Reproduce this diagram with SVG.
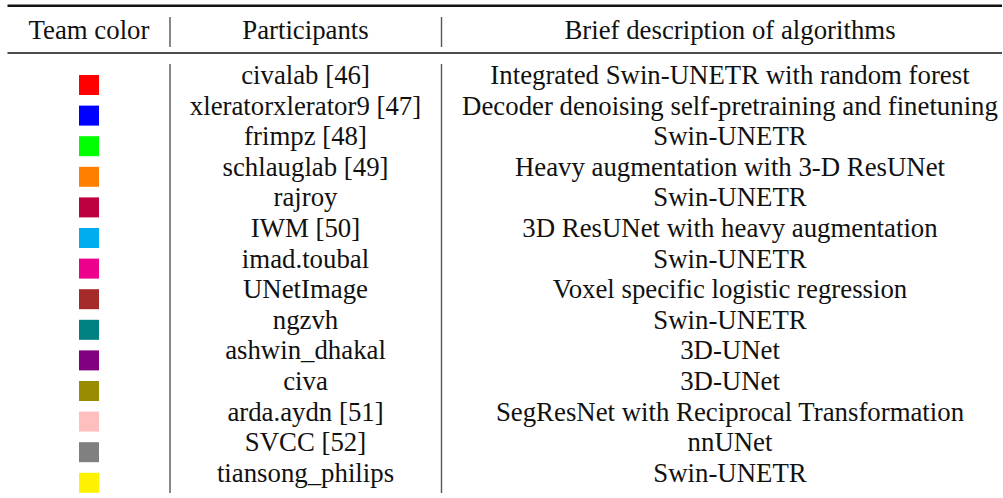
<svg xmlns="http://www.w3.org/2000/svg" width="1003" height="498" viewBox="0 0 1003 498">
  <style>
    text { font-family: "Liberation Serif", "Times New Roman", serif; font-size: 26.8px; fill: #111; text-anchor: middle; }
    .rule { stroke: #111; }
    .sep { stroke: #555; stroke-width: 1.4; }
  </style>
  <rect width="1003" height="498" fill="#fff"/>

  <!-- horizontal rules -->
  <line class="rule" x1="7.5" y1="5.8" x2="1002" y2="5.8" stroke-width="2.4"/>
  <line class="rule" x1="7.5" y1="53" x2="1002" y2="53" stroke-width="1.3"/>

  <!-- column separators -->
  <g id="separators">
    <line class="sep" x1="170" y1="17" x2="170" y2="47"/>
    <line class="sep" x1="441.5" y1="17" x2="441.5" y2="47"/>
    <line class="sep" x1="170" y1="64" x2="170" y2="493"/>
    <line class="sep" x1="441.5" y1="64" x2="441.5" y2="493"/>
  </g>

  <!-- header -->
  <g id="header">
    <text x="89" y="38.6">Team color</text>
    <text x="305.5" y="38.6">Participants</text>
    <text x="730" y="38.6">Brief description of algorithms</text>
  </g>

  <!-- team colour swatches -->
  <g id="swatches">
    <rect x="79" y="75" width="20" height="20" fill="#ff0000"/>
    <rect x="79" y="105.6" width="20" height="20" fill="#0000ff"/>
    <rect x="79" y="136.2" width="20" height="20" fill="#00ff00"/>
    <rect x="79" y="166.8" width="20" height="20" fill="#ff8000"/>
    <rect x="79" y="197.4" width="20" height="20" fill="#bf0040"/>
    <rect x="79" y="228" width="20" height="20" fill="#00aeef"/>
    <rect x="79" y="258.6" width="20" height="20" fill="#ec008c"/>
    <rect x="79" y="289.2" width="20" height="20" fill="#a52a2a"/>
    <rect x="79" y="319.8" width="20" height="20" fill="#008080"/>
    <rect x="79" y="350.4" width="20" height="20" fill="#800080"/>
    <rect x="79" y="381" width="20" height="20" fill="#998c00"/>
    <rect x="79" y="411.6" width="20" height="20" fill="#ffbfbf"/>
    <rect x="79" y="442.2" width="20" height="20" fill="#808080"/>
    <rect x="79" y="472.8" width="20" height="20" fill="#fff200"/>
  </g>

  <!-- participants -->
  <g id="participants">
    <text x="305.5" y="84">civalab [46]</text>
    <text x="305.5" y="114.6">xleratorxlerator9 [47]</text>
    <text x="305.5" y="145.2">frimpz [48]</text>
    <text x="305.5" y="175.8">schlauglab [49]</text>
    <text x="305.5" y="206.4">rajroy</text>
    <text x="305.5" y="237">IWM [50]</text>
    <text x="305.5" y="267.6">imad.toubal</text>
    <text x="305.5" y="298.2">UNetImage</text>
    <text x="305.5" y="328.8">ngzvh</text>
    <text x="305.5" y="359.4">ashwin_dhakal</text>
    <text x="305.5" y="390">civa</text>
    <text x="305.5" y="420.6">arda.aydn [51]</text>
    <text x="305.5" y="451.2">SVCC [52]</text>
    <text x="305.5" y="481.8">tiansong_philips</text>
  </g>

  <!-- algorithm descriptions -->
  <g id="descriptions">
    <text x="730" y="84">Integrated Swin-UNETR with random forest</text>
    <text x="730" y="114.6">Decoder denoising self-pretraining and finetuning</text>
    <text x="730" y="145.2">Swin-UNETR</text>
    <text x="730" y="175.8">Heavy augmentation with 3-D ResUNet</text>
    <text x="730" y="206.4">Swin-UNETR</text>
    <text x="730" y="237">3D ResUNet with heavy augmentation</text>
    <text x="730" y="267.6">Swin-UNETR</text>
    <text x="730" y="298.2">Voxel specific logistic regression</text>
    <text x="730" y="328.8">Swin-UNETR</text>
    <text x="730" y="359.4">3D-UNet</text>
    <text x="730" y="390">3D-UNet</text>
    <text x="730" y="420.6">SegResNet with Reciprocal Transformation</text>
    <text x="730" y="451.2">nnUNet</text>
    <text x="730" y="481.8">Swin-UNETR</text>
  </g>
</svg>
